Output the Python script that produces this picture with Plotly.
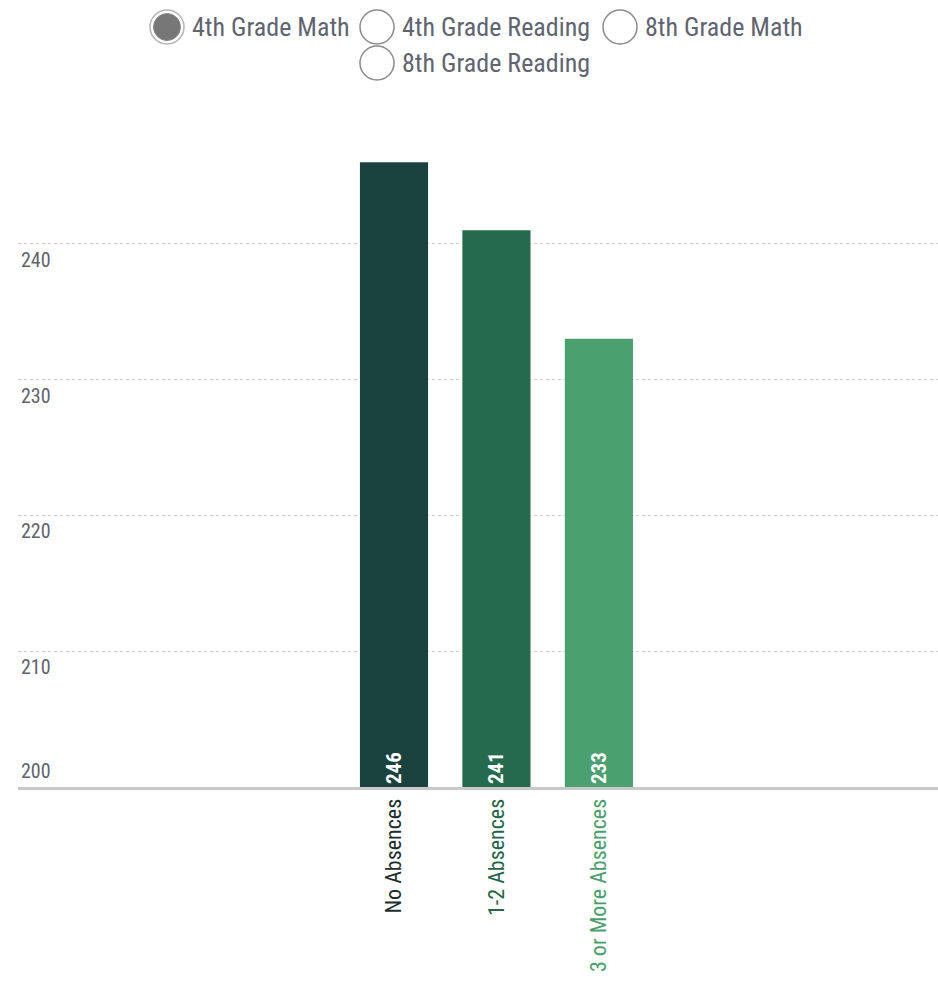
import plotly.graph_objects as go

# Average 4th grade math scale score by number of absences
categories = ["No Absences", "1-2 Absences", "3 or More Absences"]
scores = [246, 241, 233]
bar_colors = ["#1a4340", "#246b4d", "#4aa06f"]
label_colors = ["#1d2f2d", "#25644a", "#4a9e6c"]

y_ticks = [200, 210, 220, 230, 240]
options = ["4th Grade Math", "4th Grade Reading", "8th Grade Math", "8th Grade Reading"]
selected = "4th Grade Math"

FONT = "Liberation Sans Narrow, Roboto Condensed, Arial Narrow, sans-serif"
GREY = "#5f6470"

fig = go.Figure()
fig.add_trace(go.Bar(
    x=list(range(len(categories))),
    y=[s - 200 for s in scores],
    base=200,
    marker=dict(color=bar_colors, line=dict(width=0)),
    width=0.665,
    text=[f"<b>{s}</b>" for s in scores],
    textposition="inside",
    insidetextanchor="start",
    textangle=-90,
    textfont=dict(family=FONT, size=21, color="white"),
    hoverinfo="skip",
))

ticktext = [f'<span style="color:{c}">{t}</span>' for t, c in zip(categories, label_colors)]

fig.update_xaxes(
    range=[-3.67, 5.31],
    tickmode="array",
    tickvals=list(range(len(categories))),
    ticktext=ticktext,
    tickangle=-90,
    tickfont=dict(family=FONT, size=22),
    showgrid=False,
    showline=True,
    linecolor="#c8c8c8",
    linewidth=3,
    ticks="",
    zeroline=False,
)
fig.update_yaxes(
    range=[200, 250],
    tickvals=y_ticks[1:],
    showticklabels=False,
    showgrid=True,
    gridcolor="#cfcfcf",
    griddash="dot",
    gridwidth=1,
    zeroline=False,
)

# plot-area geometry in page pixels
W, H = 938, 983
plot_left, plot_right = 18, 938
plot_top, plot_bottom = 108, 787

# y tick labels drawn inside the plot, next to their gridlines
annotations = []
for v in y_ticks:
    annotations.append(dict(
        x=0, xref="paper", y=v, yref="y",
        text=str(v), showarrow=False,
        xanchor="left", yanchor="bottom" if v == 200 else "top",
        xshift=1, yshift=2 if v == 200 else -2,
        font=dict(family=FONT, size=20, color=GREY),
    ))

# radio-button selector above the chart (positions in page pixels)
radio_pos = [(167, 27), (377, 27), (620, 27), (377, 63)]


def to_paper(px, py):
    return ((px - plot_left) / (plot_right - plot_left),
            (plot_bottom - py) / (plot_bottom - plot_top))


shapes = []
for name, (cx, cy) in zip(options, radio_pos):
    ax, ay = to_paper(cx, cy)
    common = dict(type="circle", xref="paper", yref="paper",
                  xsizemode="pixel", ysizemode="pixel", xanchor=ax, yanchor=ay)
    if name == selected:
        shapes.append(dict(**common, x0=-17, x1=17, y0=-17, y1=17,
                           fillcolor="white", line=dict(color="#b5b5b5", width=1.5)))
        shapes.append(dict(**common, x0=-13.5, x1=13.5, y0=-13.5, y1=13.5,
                           fillcolor="#777777", line=dict(color="#8a8a8a", width=1)))
    else:
        shapes.append(dict(**common, x0=-17, x1=17, y0=-17, y1=17,
                           fillcolor="white", line=dict(color="#8c8c8c", width=1.5)))
    tx, ty = to_paper(cx + 23, cy)
    annotations.append(dict(
        x=tx, xref="paper", y=ty, yref="paper",
        text=name, showarrow=False, xanchor="left", yanchor="middle",
        font=dict(family=FONT, size=26, color=GREY),
    ))

fig.update_layout(
    width=W, height=H,
    margin=dict(l=plot_left, r=W - plot_right, t=plot_top, b=H - plot_bottom),
    paper_bgcolor="white",
    plot_bgcolor="white",
    showlegend=False,
    shapes=shapes,
    annotations=annotations,
    font=dict(family=FONT, color=GREY),
)

fig.write_html("out.html")
